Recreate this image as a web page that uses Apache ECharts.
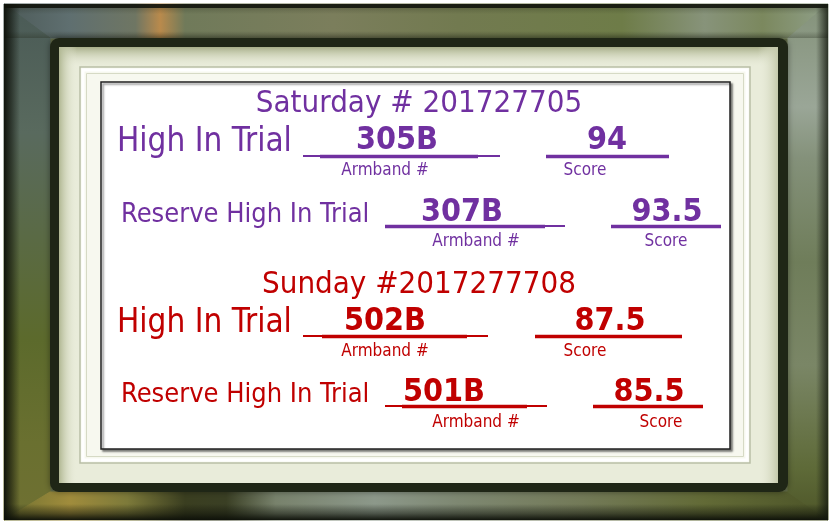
<!DOCTYPE html>
<html><head><meta charset="utf-8">
<script src="https://cdn.jsdelivr.net/npm/echarts@6/dist/echarts.min.js"></script>
<style>html,body{margin:0;padding:0;background:#fff}#c{width:832px;height:526px}</style>
</head><body><div id="c"></div>
<script>
// ---- data ----
var days = ['Saturday # 201727705', 'Sunday #2017277708'];
var awardLabels = ['High In Trial', 'Reserve High In Trial'];
var armbands = [['305B', '307B'], ['502B', '501B']];
var scores = [['94', '93.5'], ['87.5', '85.5']];
var fieldLabels = ['Armband #', 'Score'];
var dayColors = ['#7030a0', '#c00000'];

// ---- layout (not data) ----
var FONT = '"DejaVu Sans Condensed","DejaVu Sans",sans-serif';
var dayBlock = [
  { titleY: 104, rows: [
    { labelX: 117, labelY: 142, labelSize: 33, lineY: 156,
      arm: { x0: 303, x1: 500, t0: 320, t1: 478, cx: 397, vy: 141, lx: 385, ly: 171 },
      sc:  { x0: 546, x1: 669, t0: 546, t1: 669, cx: 607, vy: 141, lx: 585, ly: 171 } },
    { labelX: 121, labelY: 215, labelSize: 27, lineY: 226,
      arm: { x0: 385, x1: 565, t0: 385, t1: 545, cx: 462, vy: 213, lx: 476, ly: 242 },
      sc:  { x0: 611, x1: 721, t0: 611, t1: 721, cx: 667, vy: 213, lx: 666, ly: 242 } }
  ]},
  { titleY: 285, rows: [
    { labelX: 117, labelY: 323, labelSize: 33, lineY: 336,
      arm: { x0: 303, x1: 488, t0: 322, t1: 467, cx: 385, vy: 322, lx: 385, ly: 352 },
      sc:  { x0: 535, x1: 682, t0: 535, t1: 682, cx: 610, vy: 322, lx: 585, ly: 352 } },
    { labelX: 121, labelY: 395, labelSize: 27, lineY: 406,
      arm: { x0: 385, x1: 547, t0: 402, t1: 527, cx: 444, vy: 393, lx: 476, ly: 423 },
      sc:  { x0: 593, x1: 703, t0: 593, t1: 703, cx: 649, vy: 393, lx: 661, ly: 423 } }
  ]}
];

function lin(x2,y2,stops){ return {type:'linear',x:0,y:0,x2:x2,y2:y2,colorStops:stops.map(function(s){return {offset:s[0],color:s[1]};})}; }
function poly(pts,fill){ return {type:'polygon',silent:true,shape:{points:pts},style:{fill:fill,stroke:fill,lineWidth:1}}; }

var g = [];
// frame base + sides
g.push({type:'rect',silent:true,shape:{x:4,y:4,width:824,height:516},style:{fill:'#626c48'}});
g.push(poly([[4,4],[828,4],[788,38],[50,38]], lin(1,0,[[0,'#4c5a58'],[0.08,'#5f6f70'],[0.16,'#6f7663'],[0.19,'#b98a4c'],[0.22,'#707a5a'],[0.4,'#7b7e5c'],[0.55,'#727a50'],[0.75,'#6e7c48'],[0.85,'#87937a'],[0.92,'#7b885e'],[1,'#90a08a']])));
g.push(poly([[4,4],[50,38],[50,492],[4,520]], lin(0,1,[[0,'#4a5a56'],[0.25,'#596a5e'],[0.45,'#5a6a45'],[0.65,'#5c6a2c'],[0.85,'#6a7030'],[1,'#6f7032']])));
g.push(poly([[4,520],[50,492],[788,492],[828,520]], lin(1,0,[[0,'#6e7030'],[0.08,'#a08c3c'],[0.15,'#7d7a3a'],[0.22,'#3a3e20'],[0.27,'#3a3f24'],[0.33,'#78826c'],[0.45,'#8c988a'],[0.55,'#7e8872'],[0.7,'#737a58'],[0.85,'#626a36'],[1,'#4c5428']])));
g.push(poly([[828,4],[788,38],[788,492],[828,520]], lin(0,1,[[0,'#84927a'],[0.2,'#9aa697'],[0.3,'#84917a'],[0.5,'#6f7d5a'],[0.7,'#7a8666'],[0.9,'#5e6a38'],[1,'#4d5528']])));
// darkening toward the rim on the top band
g.push({type:'rect',silent:true,shape:{x:4,y:4,width:824,height:34},style:{fill:lin(0,1,[[0,'rgba(30,35,20,0.35)'],[0.3,'rgba(30,35,20,0)'],[0.8,'rgba(30,35,20,0)'],[1,'rgba(30,35,20,0.3)']])}});
// outer bevel darkening
g.push({type:'rect',silent:true,shape:{x:4,y:4,width:16,height:516},style:{fill:lin(1,0,[[0,'rgba(12,15,8,0.95)'],[0.5,'rgba(12,15,8,0.5)'],[1,'rgba(12,15,8,0)']])}});
g.push({type:'rect',silent:true,shape:{x:4,y:504,width:824,height:16},style:{fill:lin(0,1,[[0,'rgba(12,15,8,0)'],[0.6,'rgba(12,15,8,0.5)'],[1,'rgba(12,15,8,0.95)']])}});
g.push({type:'rect',silent:true,shape:{x:4,y:4,width:824,height:4},style:{fill:'rgba(15,18,10,0.85)'}});
g.push({type:'rect',silent:true,shape:{x:816,y:4,width:12,height:516},style:{fill:lin(1,0,[[0,'rgba(20,25,15,0)'],[1,'rgba(20,25,15,0.8)']])}});
// dark rim around mat
g.push({type:'rect',silent:true,shape:{x:50,y:38,width:738,height:454,r:9},style:{fill:'#1f2616',shadowBlur:6,shadowColor:'rgba(0,0,0,0.4)'}});
// mat
g.push({type:'rect',silent:true,shape:{x:59,y:47,width:719,height:436},style:{fill:'#e9ecda'}});
g.push({type:'rect',silent:true,shape:{x:59,y:47,width:719,height:20},style:{fill:lin(0,1,[[0,'#a7ae88'],[1,'rgba(233,236,218,0)']])}});
g.push({type:'rect',silent:true,shape:{x:59,y:47,width:18,height:436},style:{fill:lin(1,0,[[0,'#b0b792'],[1,'rgba(233,236,218,0)']])}});
g.push({type:'rect',silent:true,shape:{x:758,y:47,width:20,height:436},style:{fill:lin(1,0,[[0,'rgba(233,236,218,0)'],[1,'#c4c9ab']])}});
// inner fillet
g.push({type:'rect',silent:true,shape:{x:80,y:67,width:670,height:396},style:{fill:'#f7f8ef',stroke:'#b9bea6',lineWidth:1.5}});
g.push({type:'rect',silent:true,shape:{x:83,y:70,width:664,height:390},style:{fill:'none',stroke:'#ffffff',lineWidth:3}});
g.push({type:'rect',silent:true,shape:{x:86.5,y:73.5,width:657,height:383},style:{fill:'none',stroke:'#d6dac5',lineWidth:1}});
// white panel
g.push({type:'rect',silent:true,shape:{x:101,y:82,width:629,height:367},style:{fill:'#ffffff',stroke:'#222',lineWidth:1.5,shadowBlur:2,shadowOffsetX:2,shadowOffsetY:2,shadowColor:'rgba(0,0,0,0.45)'}});

function txt(x,y,s,size,color,weight,align){
  return {type:'text',x:x,y:y,silent:true,style:{text:s,fill:color,font:(weight||'normal')+' '+size+'px '+FONT,textAlign:align||'center',textVerticalAlign:'middle'}};
}
function line(x0,x1,y,w,color){
  return {type:'line',shape:{x1:x0,y1:y,x2:x1,y2:y},silent:true,style:{stroke:color,lineWidth:w}};
}

days.forEach(function(day,d){
  var c = dayColors[d], blk = dayBlock[d];
  g.push(txt(419,blk.titleY,day,31,c));
  blk.rows.forEach(function(r,i){
    g.push(txt(r.labelX,r.labelY,awardLabels[i],r.labelSize,c,'normal','left'));
    [[r.arm,armbands[d][i],fieldLabels[0]],[r.sc,scores[d][i],fieldLabels[1]]].forEach(function(f){
      var p=f[0];
      g.push(line(p.x0,p.x1,r.lineY,2,c));
      g.push(line(p.t0,p.t1,r.lineY+0.5,3.5,c));
      g.push(txt(p.cx,p.vy,f[1],32,c,'bold'));
      g.push(txt(p.lx,p.ly,f[2],17,c));
    });
  });
});

var chart = echarts.init(document.getElementById('c'),null,{renderer:'canvas'});
chart.setOption({animation:false,graphic:{elements:g}});
</script></body></html>
